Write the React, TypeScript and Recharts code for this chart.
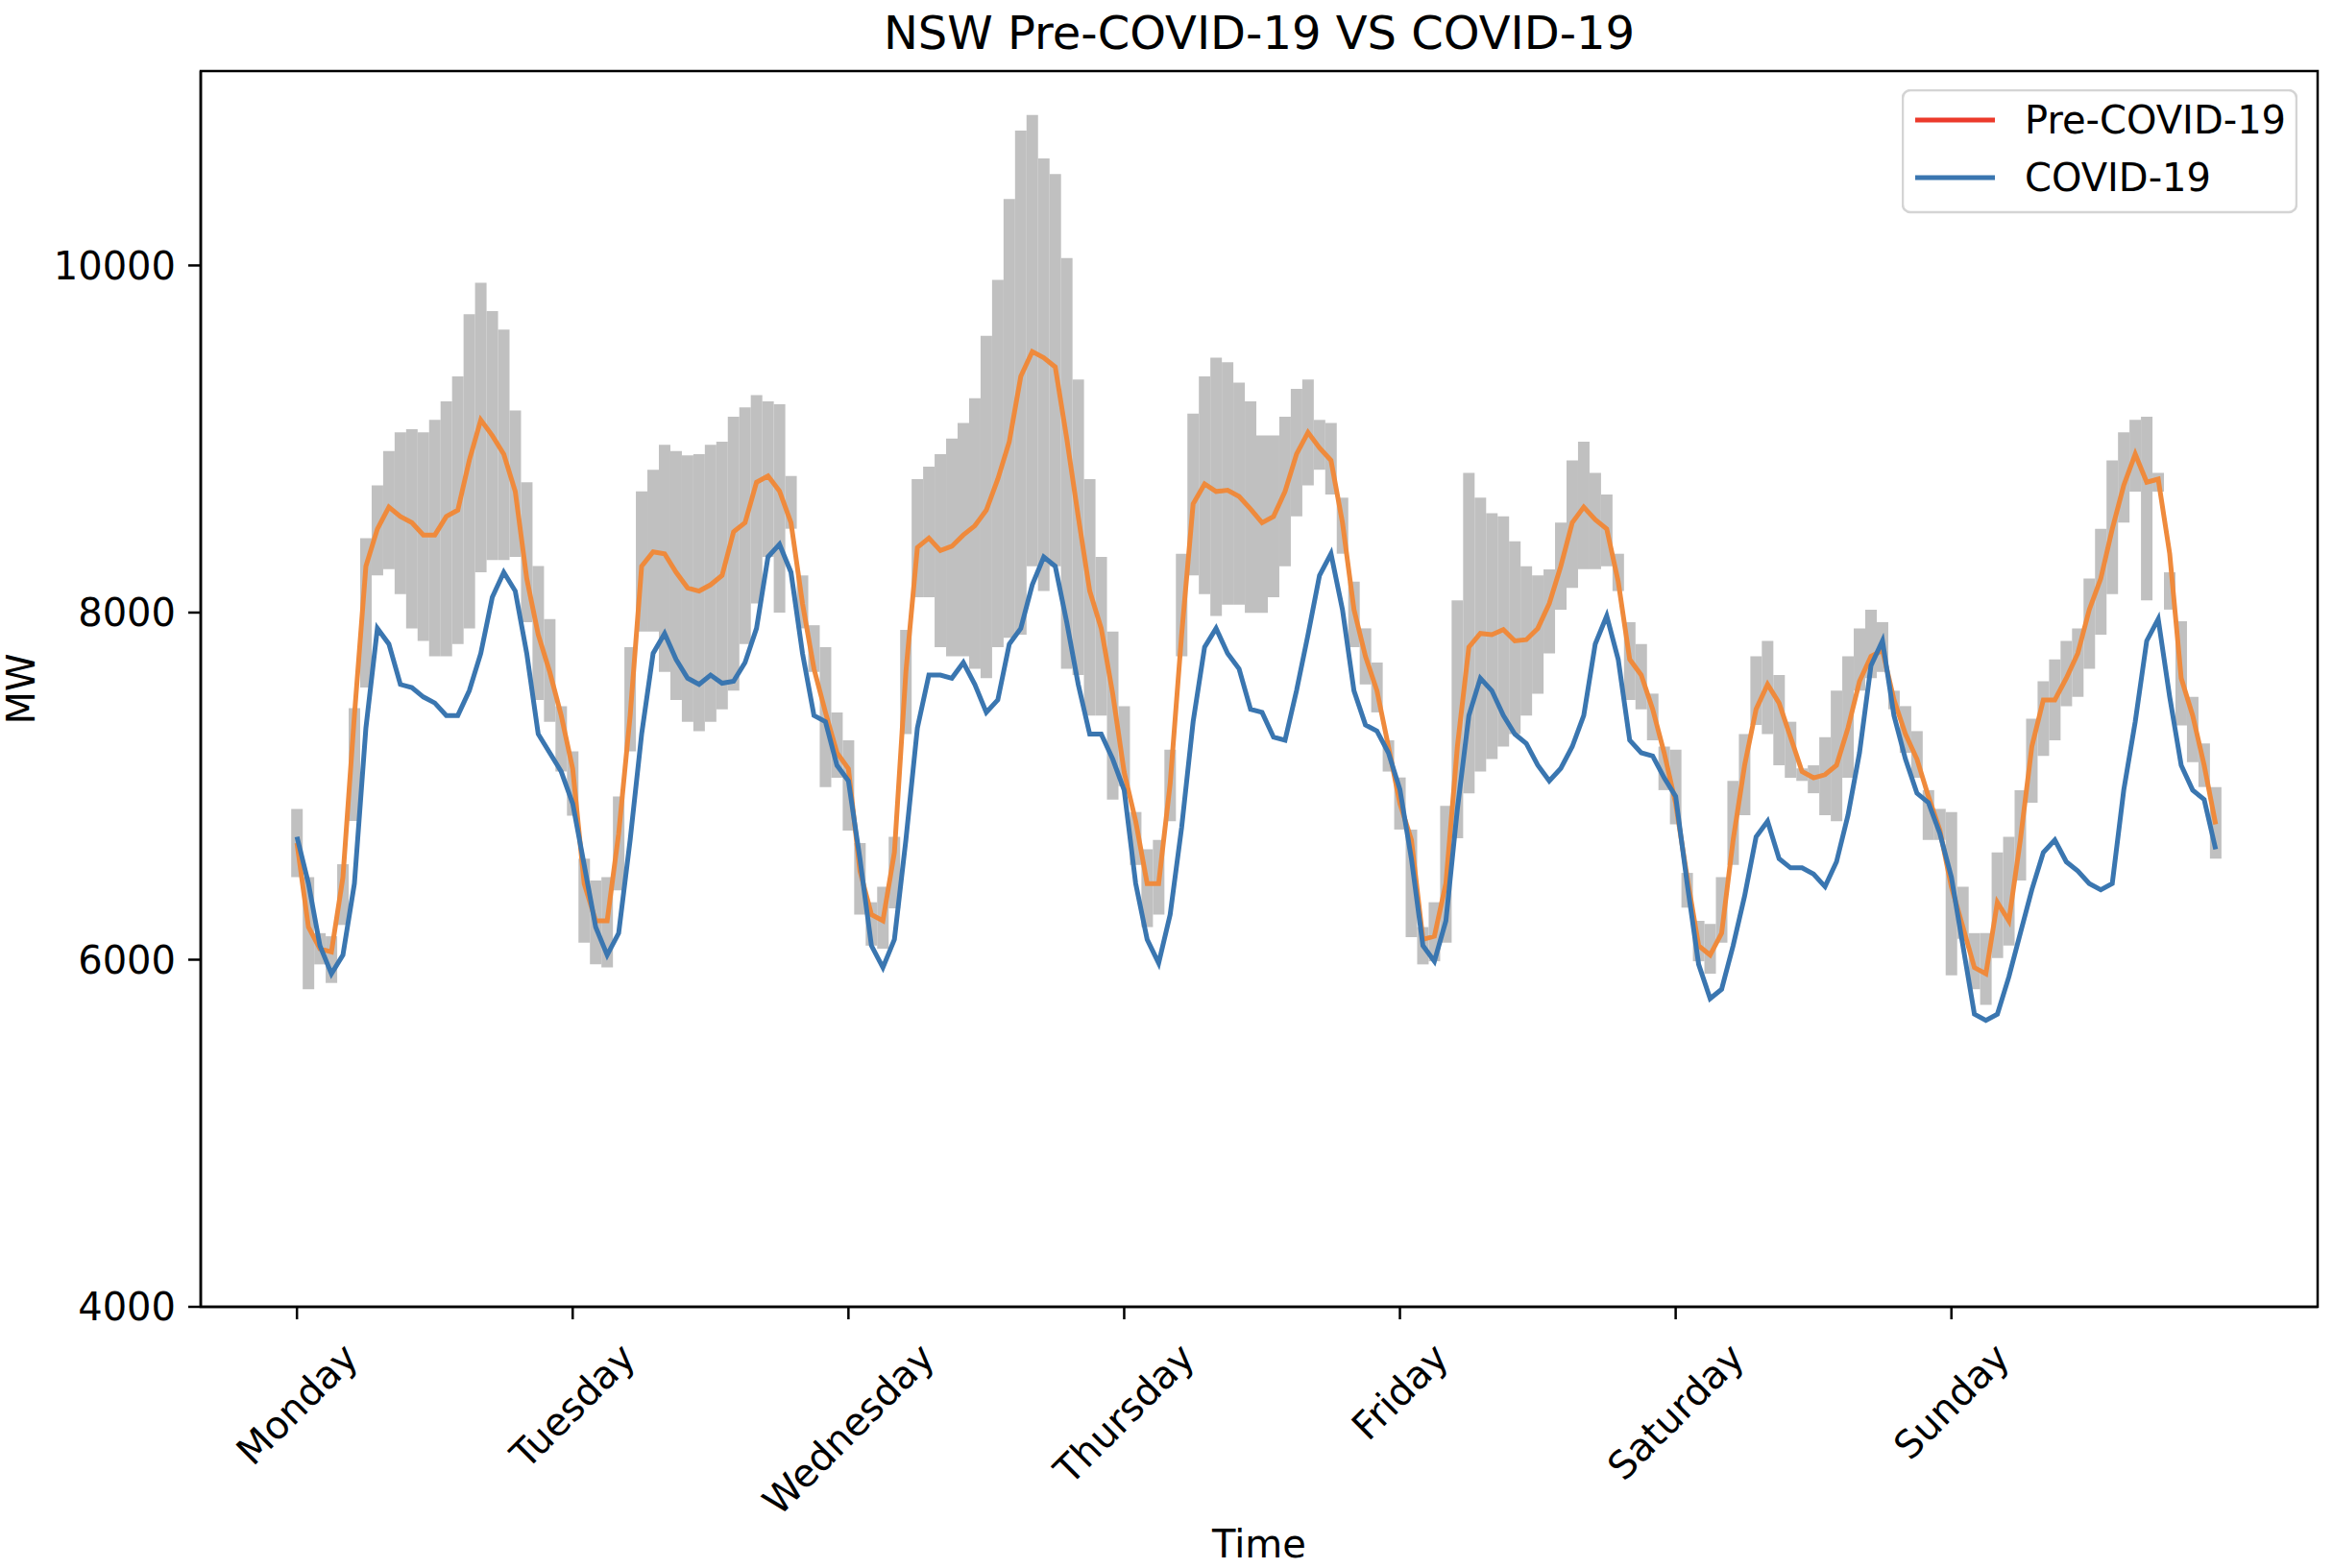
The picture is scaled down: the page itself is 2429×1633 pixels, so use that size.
import { ComposedChart, Bar, Line, XAxis, YAxis, Legend, ReferenceArea, Label } from 'recharts';

// hourly readings (every second half-hour slot), Monday 00:00 -> Sunday 23:00
const preCovid = [
  6672, 6188, 6063, 6045, 6475, 7407, 8267, 8482, 8608, 8554, 8518, 8447, 8447, 8554, 8590, 8877, 9110, 9020, 8913, 8698, 8196, 7873, 7658, 7407,
  7100, 6439, 6224, 6224, 6726, 7407, 8267, 8350, 8339, 8232, 8142, 8124, 8160, 8214, 8465, 8518, 8751, 8787, 8700, 8518, 8052, 7676, 7425, 7192,
  7100, 6511, 6260, 6224, 6618, 7658, 8375, 8429, 8357, 8382, 8447, 8500, 8590, 8769, 8985, 9361, 9504, 9468, 9415, 9003, 8554, 8124, 7909, 7533,
  7080, 6798, 6439, 6439, 7013, 7873, 8626, 8741, 8698, 8705, 8669, 8597, 8518, 8554, 8698, 8913, 9038, 8949, 8877, 8518, 8017, 7748, 7550, 7228,
  6900, 6690, 6117, 6135, 6439, 7228, 7801, 7880, 7873, 7902, 7837, 7844, 7909, 8052, 8267, 8518, 8608, 8536, 8482, 8178, 7730, 7640, 7443, 7192,
  6900, 6475, 6081, 6027, 6153, 6690, 7120, 7443, 7586, 7479, 7282, 7084, 7048, 7066, 7120, 7335, 7604, 7748, 7783, 7497, 7300, 7156, 6941, 6744,
  6420, 6188, 5955, 5919, 6331, 6224, 6690, 7228, 7497, 7497, 7622, 7765, 8017, 8196, 8482, 8733, 8913, 8751, 8769, 8339, 7622, 7407, 7120, 6780,
];

const covid = [
  6708, 6439, 6081, 5919, 6027, 6439, 7335, 7909, 7819, 7586, 7568, 7514, 7479, 7407, 7407, 7550, 7765, 8088, 8232, 8124, 7765, 7300, 7192, 7084,
  6900, 6546, 6188, 6027, 6153, 6690, 7300, 7765, 7880, 7730, 7622, 7586, 7640, 7593, 7604, 7712, 7909, 8321, 8393, 8232, 7765, 7407, 7371, 7120,
  7030, 6582, 6081, 5955, 6117, 6690, 7335, 7640, 7640, 7622, 7712, 7586, 7425, 7497, 7819, 7909, 8160, 8321, 8267, 7945, 7586, 7300, 7300, 7156,
  6977, 6439, 6117, 5980, 6260, 6762, 7371, 7801, 7909, 7765, 7676, 7443, 7425, 7282, 7264, 7550, 7873, 8214, 8339, 8017, 7550, 7353, 7317, 7192,
  6980, 6582, 6081, 5991, 6224, 6869, 7407, 7622, 7550, 7407, 7300, 7246, 7120, 7030, 7102, 7228, 7407, 7819, 7981, 7730, 7264, 7192, 7174, 7048,
  6941, 6439, 5973, 5776, 5830, 6081, 6367, 6708, 6798, 6582, 6529, 6529, 6493, 6421, 6564, 6833, 7192, 7694, 7837, 7407, 7156, 6959, 6905, 6726,
  6475, 6081, 5686, 5650, 5686, 5901, 6153, 6403, 6618, 6690, 6564, 6511, 6439, 6403, 6439, 6977, 7371, 7837, 7963, 7514, 7120, 6977, 6923, 6636,
];

// pre-COVID-19 spread (min / max over the sample weeks)
const bandLow = [
  6475, 5830, 5973, 5866, 6200, 6800, 7568, 8214, 8250, 8106, 7909, 7837, 7748, 7748, 7819, 7909, 8232, 8303, 8303, 8321, 7945, 7497, 7371, 7084,
  6830, 6098, 5973, 5955, 6400, 7200, 7891, 7891, 7658, 7497, 7371, 7317, 7371, 7443, 7550, 7819, 8052, 8321, 8000, 8483, 7909, 7658, 6995, 7048,
  6744, 6260, 6081, 6063, 6296, 7300, 8088, 8088, 7801, 7748, 7748, 7676, 7622, 7801, 7855, 7873, 8267, 8124, 8267, 7676, 7640, 7407, 7407, 6923,
  7000, 6546, 6188, 6260, 6798, 7748, 8214, 8106, 7981, 8045, 8045, 7998, 7998, 8088, 8267, 8554, 8733, 8823, 8680, 8339, 7801, 7586, 7425, 7084,
  6750, 6130, 5973, 5991, 6098, 6700, 6959, 7084, 7156, 7228, 7300, 7407, 7533, 7765, 8017, 8142, 8250, 8250, 8267, 8124, 7497, 7443, 7264, 6977,
  6780, 6300, 5991, 5919, 6098, 6546, 6833, 7353, 7300, 7120, 7048, 7030, 6959, 6833, 6798, 7048, 7550, 7622, 7658, 7443, 7192, 7048, 6690, 6690,
  5910, 6120, 5830, 5740, 6009, 6081, 6457, 6905, 7174, 7264, 7461, 7514, 7676, 7873, 8106, 8518, 8697, 8070, 8697, 8017, 7350, 7138, 6995, 6582,
];

const bandHigh = [
  6869, 6475, 6153, 6135, 6550, 7450, 8429, 8733, 8931, 9038, 9056, 9038, 9110, 9217, 9361, 9719, 9900, 9737, 9630, 9164, 8751, 8268, 7963, 7461,
  7200, 6582, 6457, 6475, 6941, 7800, 8698, 8823, 8967, 8931, 8906, 8913, 8967, 8985, 9128, 9182, 9253, 9217, 9200, 8787, 8214, 7927, 7801, 7425,
  7264, 6672, 6331, 6421, 6708, 7900, 8769, 8841, 8913, 9003, 9092, 9235, 9594, 9917, 10383, 10777, 10867, 10616, 10526, 10042, 9343, 8769, 8321, 7891,
  7460, 6851, 6636, 6690, 7210, 8339, 9146, 9361, 9468, 9443, 9325, 9217, 9020, 9020, 9128, 9289, 9343, 9110, 9092, 8662, 8178, 7909, 7712, 7264,
  7050, 6750, 6188, 6331, 6887, 8070, 8805, 8662, 8572, 8554, 8411, 8267, 8214, 8249, 8518, 8877, 8985, 8805, 8680, 8339, 7945, 7819, 7533, 7228,
  7210, 6500, 6224, 6206, 6475, 7030, 7300, 7748, 7837, 7640, 7371, 7102, 7120, 7282, 7550, 7748, 7909, 8017, 7945, 7550, 7461, 7317, 6977, 6869,
  6850, 6420, 6153, 6153, 6618, 6708, 6977, 7389, 7604, 7730, 7837, 7909, 8196, 8482, 8877, 9038, 9110, 9128, 8805, 8232, 7950, 7514, 7246, 6995,
];

const dayTicks = [0, 48, 96, 144, 192, 240, 288];
const dayLabels = ['Monday', 'Tuesday', 'Wednesday', 'Thursday', 'Friday', 'Saturday', 'Sunday'];
const mwTicks = [4000, 6000, 8000, 10000];

const FONT = 'DejaVu Sans';
const FS = 40;
const ORANGE = '#ef8a3c';
const BLUE = '#3a76b0';
const RED = '#ec3a2b';
const xDomain = [-16.75, 351.75];
const yDomain = [4000, 11120];

const chartData = preCovid.map((p, k) => ({
  slot: k * 2,
  pre: p,
  covid: covid[k],
  band: [bandLow[k], bandHigh[k]],
}));

let ctx: CanvasRenderingContext2D | null = null;
function textWidth(s: string) {
  if (!ctx) ctx = document.createElement('canvas').getContext('2d');
  if (!ctx) return s.length * FS * 0.62;
  ctx.font = `${FS}px "${FONT}"`;
  return ctx.measureText(s).width;
}

// matplotlib style: rotated 45deg, bounding box centred under the tick
function DayTick(props: any) {
  const { x, y, payload } = props;
  const label = dayLabels[dayTicks.indexOf(payload.value)] ?? '';
  const side = (textWidth(label) + FS * 1.16) * Math.SQRT1_2;
  const cy = y + side / 2;
  return (
    <text x={x} y={cy} textAnchor="middle" dominantBaseline="central" fontFamily={FONT} fontSize={FS} fill="#000"
      transform={`rotate(-45 ${x} ${cy})`}>
      {label}
    </text>
  );
}

function LegendBox() {
  const rows = [
    { name: 'Pre-COVID-19', color: RED },
    { name: 'COVID-19', color: BLUE },
  ];
  return (
    <svg width={412} height={130} style={{ display: 'block' }}>
      <rect x={1} y={1} width={410} height={127} rx={8} fill="#fff" stroke="#d4d4d4" strokeWidth={2.5} />
      {rows.map((r, i) => (
        <g key={r.name}>
          <line x1={14} x2={97} y1={32 + i * 60} y2={32 + i * 60} stroke={r.color} strokeWidth={5} />
          <text x={128} y={32 + i * 60} dominantBaseline="central" fontFamily={FONT} fontSize={FS} fill="#000">{r.name}</text>
        </g>
      ))}
    </svg>
  );
}

export default function App() {
  return (
    <div style={{ position: 'absolute', left: 0, top: 0, width: 2429, height: 1633, background: '#fff' }}>
      <ComposedChart width={2429} height={1633} data={chartData} barCategoryGap={0} barGap={0}
        margin={{ top: 74, right: 16, left: 0, bottom: 0 }}>
        <XAxis
          dataKey="slot"
          type="number"
          domain={xDomain}
          allowDataOverflow
          ticks={dayTicks}
          interval={0}
          height={272}
          tickSize={13}
          tickMargin={16}
          tick={<DayTick />}
          axisLine={{ stroke: '#000', strokeWidth: 2.5 }}
          tickLine={{ stroke: '#000', strokeWidth: 2.5 }}
        >
          <Label
            content={(p: any) => (
              <text x={p.viewBox.x + p.viewBox.width / 2} y={p.viewBox.y + 261} textAnchor="middle"
                fontFamily={FONT} fontSize={FS} fill="#000">Time</text>
            )}
          />
        </XAxis>
        <YAxis
          type="number"
          domain={yDomain}
          allowDataOverflow
          ticks={mwTicks}
          width={209}
          tickSize={13}
          tickMargin={13}
          tick={{ fontFamily: FONT, fontSize: FS, fill: '#000' }}
          axisLine={{ stroke: '#000', strokeWidth: 2.5 }}
          tickLine={{ stroke: '#000', strokeWidth: 2.5 }}
        >
          <Label
            content={(p: any) => {
              const cx = p.viewBox.x + 22;
              const cy = p.viewBox.y + p.viewBox.height / 2;
              return (
                <text x={cx} y={cy} textAnchor="middle" dominantBaseline="central" fontFamily={FONT} fontSize={FS} fill="#000"
                  transform={`rotate(-90 ${cx} ${cy})`}>MW</text>
              );
            }}
          />
        </YAxis>
        <Legend
          layout="vertical"
          align="center"
          verticalAlign="middle"
          content={<LegendBox />}
          wrapperStyle={{ left: 1980, top: 93, width: 412, height: 130 }}
        />
        <Bar dataKey="band" fill="#c0c0c0" isAnimationActive={false} legendType="none" />
        <Line type="linear" dataKey="pre" stroke={ORANGE} strokeWidth={5} dot={false} activeDot={false} isAnimationActive={false} />
        <Line type="linear" dataKey="covid" stroke={BLUE} strokeWidth={5} dot={false} activeDot={false} isAnimationActive={false} />
        <ReferenceArea
          x1={xDomain[0]}
          x2={xDomain[1]}
          y1={yDomain[0]}
          y2={yDomain[1]}
          fill="none"
          stroke="#000"
          strokeWidth={2.5}
          label={{
            content: (p: any) => (
              <text x={p.viewBox.x + p.viewBox.width / 2} y={p.viewBox.y - 23} textAnchor="middle" fontFamily={FONT} fontSize={48} fill="#000">
                NSW Pre-COVID-19 VS COVID-19
              </text>
            ),
          }}
        />
      </ComposedChart>
    </div>
  );
}
